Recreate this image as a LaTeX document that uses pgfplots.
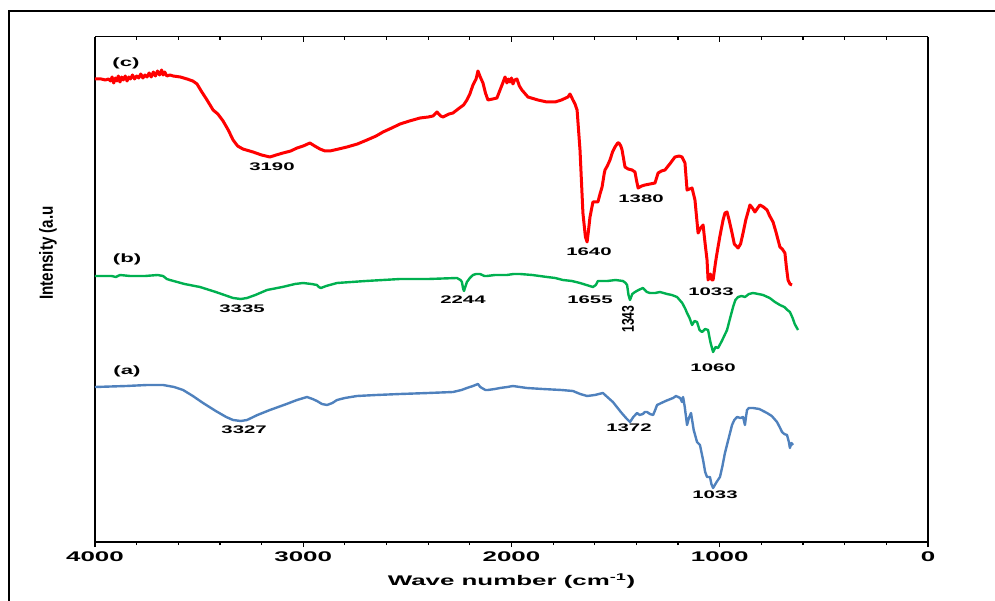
\documentclass[border=0pt]{standalone}
\usepackage{fontspec}
\setmainfont{Liberation Sans}
\newfontfamily\widefont[FakeStretch=1.85]{Liberation Sans}
\newfontfamily\narrowfont[FakeStretch=0.72]{Liberation Sans}
\newfontfamily\ylabfont[FakeStretch=0.8]{Liberation Sans}
\usepackage{pgfplots}
\pgfplotsset{compat=1.18}
\definecolor{cred}{RGB}{255,0,0}
\definecolor{cgreen}{RGB}{0,176,80}
\definecolor{cblue}{RGB}{79,129,189}
\newcommand\lab[1]{{\fontsize{11}{13}\selectfont\widefont\bfseries #1}}
\begin{document}
\begin{tikzpicture}
\useasboundingbox (-95pt,-58pt) rectangle (900pt,542pt);
\draw[line width=2.6pt] (-86pt,-70pt) -- (-86pt,531pt) -- (910pt,531pt);
\begin{axis}[
  at={(0,0)}, anchor=south west,
  scale only axis, width=833pt, height=505pt,
  xmin=0, xmax=4000, ymin=0, ymax=505, x dir=reverse,
  clip=false,
  axis x line*=bottom, axis y line*=left,
  x axis line style={line width=2pt,-},
  y axis line style={line width=2pt,-},
  tick align=outside,
  xtick={0,1000,2000,3000,4000},
  xticklabels={0,1000,2000,3000,4000},
  minor x tick num=4,
  major tick length=5pt, minor tick length=3pt,
  every tick/.style={line width=1.2pt,black},
  ytick=\empty,
  xticklabel style={font=\fontsize{14}{16}\selectfont\widefont\bfseries, yshift=-1pt},
  xlabel={Wave number (cm\textsuperscript{-1})},
  xlabel style={font=\fontsize{14}{16}\selectfont\widefont\bfseries, at={(axis description cs:0.5,0)}, anchor=center, yshift=-39pt},
]
% (c)
\addplot[cred, line width=3pt, line join=round] coordinates {
(4000,463) (3970,463) (3950,462) (3935,463) (3925,461) (3918,465) (3910,459) (3902,464) (3895,461) (3888,466)
(3880,460) (3872,465) (3864,462) (3855,466) (3846,461) (3838,465) (3830,463) (3820,467) (3810,463) (3800,466)
(3790,464) (3780,468) (3770,464) (3760,467) (3750,465) (3740,469) (3730,465) (3720,470) (3710,466) (3700,471)
(3690,467) (3680,472) (3673,467) (3665,470) (3655,466) (3640,467) (3625,466) (3590,465) (3558,463) (3530,461)
(3510,458) (3490,451) (3462,442) (3433,432) (3410,428) (3385,421) (3360,412) (3337,402) (3315,396) (3290,393)
(3241,390) (3200,387) (3160,385) (3130,387) (3097,389) (3060,391) (3030,394) (3000,396) (2968,399) (2945,396)
(2920,393) (2895,391) (2872,391) (2830,393) (2790,395) (2740,398) (2694,402) (2650,406) (2617,410) (2575,414)
(2535,418) (2490,421) (2439,424) (2400,425) (2377,426) (2358,430) (2340,426) (2329,425) (2300,428) (2281,429)
(2250,434) (2230,437) (2214,442) (2200,448) (2185,457) (2170,463) (2161,471) (2150,465) (2137,459) (2125,449)
(2113,442) (2090,443) (2070,444) (2055,452) (2040,460) (2031,465) (2022,459) (2015,463) (2007,460) (2000,464)
(1993,458) (1985,462) (1974,463) (1962,456) (1950,452) (1921,445) (1873,442) (1830,440) (1791,440) (1760,442)
(1729,445) (1719,448) (1705,442) (1695,438) (1685,432) (1671,392) (1657,329) (1645,305) (1637,300) (1630,312)
(1623,325) (1609,340) (1585,340) (1575,348) (1565,355) (1555,368) (1551,372) (1540,376) (1527,382) (1515,390)
(1503,395) (1490,399) (1484,399) (1475,396) (1469,392) (1455,375) (1440,373) (1421,372) (1407,370) (1400,362)
(1392,354) (1375,356) (1359,357) (1335,358) (1311,359) (1296,369) (1280,371) (1263,372) (1240,378) (1215,385)
(1195,386) (1181,385) (1167,379) (1157,352) (1145,353) (1133,354) (1119,342) (1104,309) (1092,314) (1080,317)
(1070,298) (1061,282) (1056,262) (1045,268) (1038,262) (1032,262) (1020,280) (1013,289) (1000,305) (984,322)
(975,329) (965,330) (955,322) (941,309) (930,298) (912,294) (900,298) (888,309) (875,322) (855,337)
(843,334) (831,330) (818,334) (807,337) (790,335) (773,332) (760,326) (744,320) (730,310) (711,295)
(700,293) (687,289) (680,275) (672,262) (663,258) (653,257)
};
% (b)
\addplot[cgreen, line width=2.4pt, line join=round] coordinates {
(4000,266) (3920,266) (3900,265) (3880,267) (3832,266) (3760,266) (3700,267) (3673,266) (3655,263) (3640,262)
(3570,258) (3496,255) (3420,250) (3337,244) (3300,243) (3270,244) (3230,247) (3174,252) (3100,255) (3040,258)
(3001,259) (2960,258) (2934,257) (2925,255) (2915,254) (2890,256) (2838,259) (2700,261) (2535,263) (2400,263)
(2262,264) (2245,262) (2238,260) (2232,253) (2228,251) (2222,255) (2214,260) (2200,264) (2185,267) (2170,268)
(2151,268) (2130,266) (2118,266) (2080,267) (2022,267) (1990,268) (1959,268) (1900,267) (1829,265) (1790,264)
(1753,262) (1710,261) (1671,259) (1640,257) (1609,255) (1595,257) (1585,261) (1575,261) (1540,261) (1500,262)
(1465,261) (1452,259) (1445,257) (1438,247) (1431,242) (1420,248) (1407,250) (1390,252) (1369,254) (1350,250)
(1335,249) (1310,249) (1287,250) (1270,249) (1253,248) (1230,247) (1205,245) (1180,239) (1165,233) (1157,229)
(1145,224) (1133,217) (1121,221) (1109,220) (1097,212) (1085,210) (1070,213) (1056,212) (1045,200) (1032,190)
(1020,195) (1008,194) (990,201) (965,212) (950,224) (936,235) (925,242) (912,245) (895,246) (879,245)
(860,248) (840,249) (815,248) (792,247) (760,244) (735,240) (711,237) (690,235) (675,232) (663,230)
(650,224) (640,218) (624,212)
};
% (a)
\addplot[cblue, line width=2.4pt, line join=round] coordinates {
(4000,155) (3850,156) (3750,157) (3673,157) (3620,155) (3577,152) (3530,146) (3481,139) (3420,131) (3370,125)
(3337,122) (3300,121) (3270,122) (3220,127) (3160,132) (3080,138) (3030,142) (2982,145) (2955,143) (2934,141)
(2910,138) (2886,137) (2860,139) (2838,142) (2800,144) (2742,146) (2650,147) (2535,148) (2400,149) (2281,150)
(2240,152) (2214,154) (2185,156) (2161,158) (2150,155) (2142,154) (2125,152) (2113,152) (2080,153) (2055,154)
(2020,155) (1993,156) (1960,155) (1926,154) (1850,153) (1760,152) (1705,151) (1670,148) (1637,146) (1600,147)
(1561,149) (1540,145) (1513,140) (1475,130) (1450,124) (1431,120) (1415,125) (1397,129) (1385,127) (1369,128)
(1360,130) (1349,130) (1335,128) (1320,127) (1310,132) (1301,137) (1260,141) (1224,144) (1210,146) (1200,145)
(1190,144) (1181,140) (1176,145) (1168,135) (1157,117) (1148,124) (1138,129) (1125,112) (1109,100) (1095,97)
(1080,82) (1070,70) (1061,65) (1047,65) (1040,58) (1032,54) (1015,60) (999,65) (988,75) (975,89)
(958,103) (941,117) (930,122) (917,125) (900,124) (888,125) (879,117) (874,125) (869,132) (860,134)
(840,134) (810,133) (773,129) (750,126) (725,120) (710,114) (701,110) (690,108) (677,107) (668,100)
(663,94) (656,99) (648,97)
};
\draw[line width=2pt] (rel axis cs:1,0) -- (rel axis cs:1,1);
\node at (axis cs:3851,479) {\lab{\fontsize{12}{14}\selectfont (c)}};
\node at (axis cs:3846,283) {\lab{\fontsize{12}{14}\selectfont (b)}};
\node at (axis cs:3846,171) {\lab{\fontsize{12}{14}\selectfont (a)}};
\node at (axis cs:3150,375) {\lab{3190}};
\node at (axis cs:1628,290) {\lab{1640}};
\node at (axis cs:1378,343) {\lab{1380}};
\node at (axis cs:1042,250) {\lab{1033}};
\node at (axis cs:3294,233) {\lab{3335}};
\node at (axis cs:2233,242) {\lab{2244}};
\node at (axis cs:1623,242) {\lab{1655}};
\node[rotate=90] at (axis cs:1440,223) {{\fontsize{17}{19}\selectfont\narrowfont\bfseries 1343}};
\node at (axis cs:1032,174) {\lab{1060}};
\node at (axis cs:3284,112) {\lab{3327}};
\node at (axis cs:1436,114) {\lab{1372}};
\node at (axis cs:1023,47) {\lab{1033}};
\end{axis}
\begin{axis}[
  at={(0,0)}, anchor=south west,
  scale only axis, width=833pt, height=505pt,
  xmin=0, xmax=4000, ymin=0, ymax=505, x dir=reverse,
  axis x line*=top, axis y line=none,
  x axis line style={line width=1pt,-},
  tick align=inside,
  xtick={0,1000,2000,3000,4000}, xticklabels={},
  minor x tick num=4,
  major tick length=5pt, minor tick length=3pt,
  every tick/.style={line width=1.2pt,black},
  ytick=\empty,
]
\addplot[draw=none] coordinates {(0,0)};
\end{axis}
\node[rotate=90, font=\fontsize{19}{21}\selectfont\ylabfont\bfseries] at (-47pt,289pt) {Intensity (a.u};
\end{tikzpicture}
\end{document}
